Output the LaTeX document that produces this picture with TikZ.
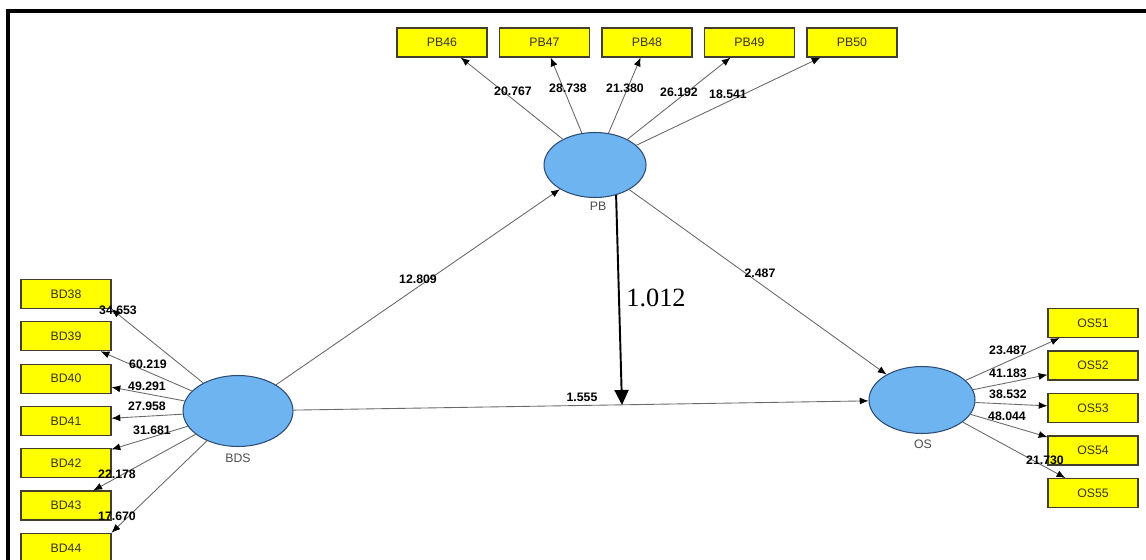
\documentclass[tikz,border=0pt]{standalone}
\usepackage{fontspec}
\setmainfont{Liberation Sans}
\newfontfamily\serifnum{Liberation Serif}
\usetikzlibrary{arrows.meta,shapes.geometric}
\definecolor{indyellow}{RGB}{255,255,0}
\definecolor{latblue}{RGB}{110,180,240}
\definecolor{latedge}{RGB}{45,75,115}
\definecolor{pathgray}{RGB}{105,105,105}

\begin{document}
\begin{tikzpicture}[x=0.02cm, y=-0.02cm,
	ind/.style={draw=black!70!olive, fill=indyellow, line width=0.6pt, minimum width=1.8cm, minimum height=0.58cm, inner sep=0pt, font=\fontsize{7}{8}\selectfont, text=black!80!olive},
	lat/.style={ellipse, draw=latedge, fill=latblue, line width=0.6pt, minimum width=2.12cm, minimum height=1.34cm, inner sep=0pt},
	latlab/.style={font=\fontsize{7}{8}\selectfont, text=black!70},
	num/.style={font=\bfseries\fontsize{7}{8}\selectfont, inner sep=0.5pt},
	load/.style={draw=pathgray, line width=0.5pt, -{Latex[color=black, length=5pt, width=4pt]}},
	]
	\useasboundingbox (0,0) rectangle (1146,560);
	
	% 1. outer frame (top and left only)
	\draw[line width=0.08cm] (8,560) -- (8,11) -- (1146,11);
	
	% 2. latent variables
	\node[lat, minimum width=2.2cm, minimum height=1.42cm] (bds) at (238,411) {};
	\node[lat, minimum width=2.04cm, minimum height=1.3cm] (pb) at (595,165) {};
	\node[lat] (os) at (922,400) {};
	\node[latlab] (bdsl) at (238,458) {BDS};
	\node[latlab] (pbl) at (598,206) {PB};
	\node[latlab] (osl) at (923,444) {OS};
	
	% 3. indicator boxes
	\foreach \i [count=\k from 0] in {38,...,44}
		\node[ind] (bd\i) at (66,294+42.3*\k) {BD\i};
	\foreach \i [count=\k from 0] in {46,...,50}
		\node[ind] (pb\i) at (442+102.5*\k,42.5) {PB\i};
	\foreach \i [count=\k from 0] in {51,...,55}
		\node[ind] (os\i) at (1093,323+42.5*\k) {OS\i};
	
	% 4. outer loadings
	\draw[load] (bds) -- (bd38.south east);
	\foreach \i in {39,...,43} \draw[load] (bds) -- (bd\i);
	\draw[load] (bds) -- (bd44.north east);
	\foreach \i in {46,...,50} \draw[load] (pb) -- (pb\i);
	\foreach \i in {51,...,55} \draw[load] (os) -- (os\i);
	
	\foreach \t/\x/\y [count=\k] in {34.653/118/310, 60.219/148/364, 49.291/147/386, 27.958/147/406, 31.681/152/430, 22.178/117/474, 17.670/117/516}
		\node[num] (lbd\k) at (\x,\y) {\t};
	\foreach \t/\x/\y [count=\k] in {20.767/513/91, 28.738/568/88, 21.380/625/88, 26.192/679/92, 18.541/728/94}
		\node[num] (lpb\k) at (\x,\y) {\t};
	\foreach \t/\x/\y [count=\k] in {23.487/1008/350, 41.183/1008/373, 38.532/1008/394, 48.044/1007/416, 21.730/1045/460}
		\node[num] (los\k) at (\x,\y) {\t};
	
	% 5. structural paths
	\draw[load] (bds) -- (pb);
	\draw[load] (pb) -- (os);
	\draw[load] (bds) -- (os);
	\node[num] (p1) at (418,279) {12.809};
	\node[num] (p2) at (760,273) {2.487};
	\node[num] (p3) at (582,397) {1.555};
	
	% moderating effect onto the BDS -> OS path
	\coordinate (mod) at (622,405);
	\draw[line width=1.1pt, -{Triangle[length=0.3cm, width=0.28cm]}] (pb.-55) -- (mod);
	\node[font=\serifnum\fontsize{15}{18}\selectfont] (p4) at (656,298) {1.012};
\end{tikzpicture}
\end{document}
